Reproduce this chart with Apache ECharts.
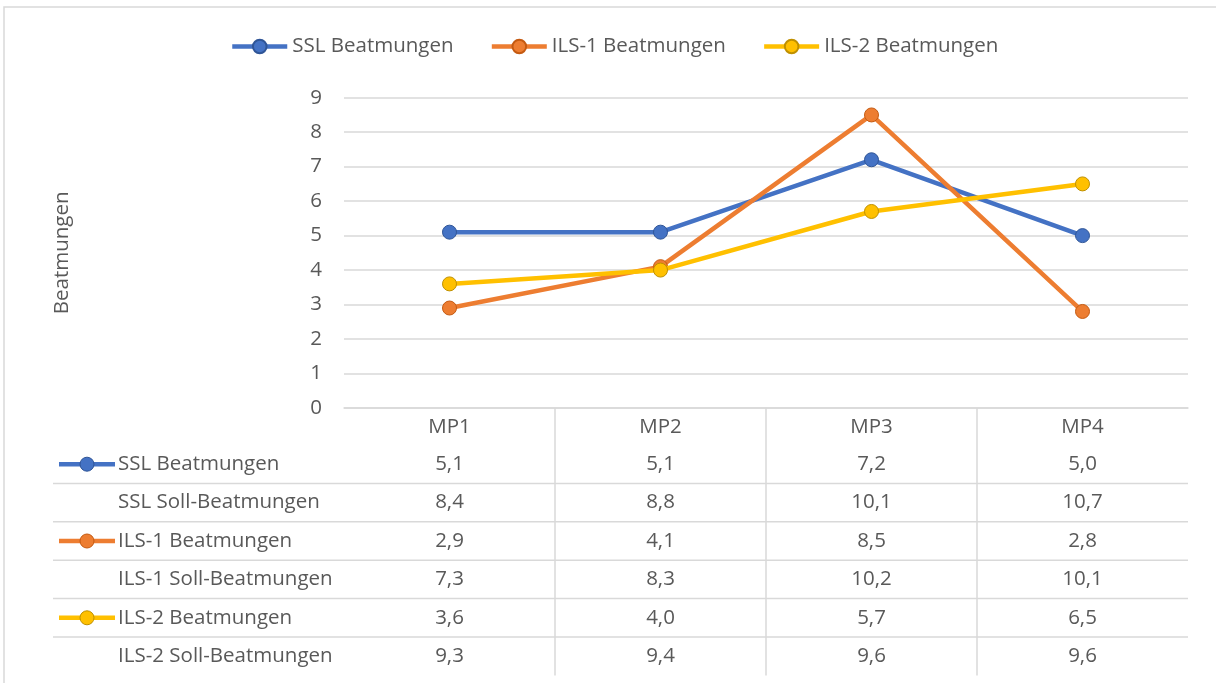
<!DOCTYPE html>
<html>
<head>
<meta charset="utf-8">
<script src="https://cdn.jsdelivr.net/npm/echarts@6/dist/echarts.min.js"></script>
<style>html,body{margin:0;padding:0;background:#fff;}#c{width:1216px;height:683px;}</style>
</head>
<body>
<div id="c"></div>
<script>
const categories = ['MP1', 'MP2', 'MP3', 'MP4'];
const sslBeatmungen = [5.1, 5.1, 7.2, 5.0];
const sslSoll = [8.4, 8.8, 10.1, 10.7];
const ils1Beatmungen = [2.9, 4.1, 8.5, 2.8];
const ils1Soll = [7.3, 8.3, 10.2, 10.1];
const ils2Beatmungen = [3.6, 4.0, 5.7, 6.5];
const ils2Soll = [9.3, 9.4, 9.6, 9.6];
const seriesNames = ['SSL Beatmungen', 'ILS-1 Beatmungen', 'ILS-2 Beatmungen'];
const tableRows = [
  { label: 'SSL Beatmungen', values: sslBeatmungen, key: 0 },
  { label: 'SSL Soll-Beatmungen', values: sslSoll, key: -1 },
  { label: 'ILS-1 Beatmungen', values: ils1Beatmungen, key: 1 },
  { label: 'ILS-1 Soll-Beatmungen', values: ils1Soll, key: -1 },
  { label: 'ILS-2 Beatmungen', values: ils2Beatmungen, key: 2 },
  { label: 'ILS-2 Soll-Beatmungen', values: ils2Soll, key: -1 }
];
const colors = ['#4472C4', '#ED7D31', '#FFC000'];
const borders = ['#2F5597', '#C55A11', '#BF9000'];

const FONT = '"Open Sans", sans-serif';
const FS = 20.5;
const TXT = '#595959';
const GRID = '#D9D9D9';

const chart = echarts.init(document.getElementById('c'), null, { renderer: 'canvas' });

function fmt(v) { return v.toFixed(1).replace('.', ','); }

const seriesData = [sslBeatmungen, ils1Beatmungen, ils2Beatmungen];

chart.setOption({
  backgroundColor: '#fff',
  animation: false,
  textStyle: { fontFamily: FONT },
  legend: {
    left: 225, top: 31,
    itemWidth: 55, itemHeight: 17, itemGap: 36,
    lineStyle: { width: 4.5 },
    textStyle: { fontFamily: FONT, fontSize: FS, color: TXT },
    data: seriesNames
  },
  grid: { left: 344, right: 28, top: 97.7, bottom: 275, containLabel: false },
  xAxis: {
    type: 'category', data: categories, boundaryGap: true,
    axisLine: { show: true, lineStyle: { color: GRID, width: 1.5 } },
    axisTick: { show: false },
    axisLabel: { margin: 9, fontFamily: FONT, fontSize: FS, color: TXT }
  },
  yAxis: {
    type: 'value', min: 0, max: 9, interval: 1,
    name: 'Beatmungen', nameLocation: 'middle', nameRotate: 90, nameGap: 271,
    nameTextStyle: { fontFamily: FONT, fontSize: FS, color: TXT },
    axisLine: { show: false }, axisTick: { show: false },
    axisLabel: { margin: 22, fontFamily: FONT, fontSize: FS, color: TXT },
    splitLine: { lineStyle: { color: GRID, width: 1.5 } }
  },
  series: seriesNames.map((n, i) => ({
    name: n, type: 'line', data: seriesData[i],
    symbol: 'circle', symbolSize: 14,
    lineStyle: { color: colors[i], width: 4.5 },
    itemStyle: { color: colors[i], borderColor: borders[i], borderWidth: 1 },
    z: 3 + i
  }))
});

function buildTable() {
  const centers = categories.map((c, i) => chart.convertToPixel({ xAxisIndex: 0 }, i));
  const step = centers.length > 1 ? centers[1] - centers[0] : 200;
  const left = centers[0] - step / 2;
  const right = centers[centers.length - 1] + step / 2;
  const axisY = chart.convertToPixel({ yAxisIndex: 0 }, 0);
  const headerH = 37;
  const rowH = 38.4;
  const tableTop = axisY + headerH;
  const tableBottom = tableTop + rowH * tableRows.length;
  const els = [];
  els.push({ type: 'rect', shape: { x: 4, y: 7, width: 1400, height: 900 }, style: { fill: 'none', stroke: GRID, lineWidth: 1.5 }, silent: true, z: -10 });
  for (let i = 1; i < categories.length; i++) {
    const x = left + step * i;
    els.push({ type: 'line', shape: { x1: x, y1: axisY, x2: x, y2: tableBottom }, style: { stroke: GRID, lineWidth: 1.5 }, silent: true });
  }
  for (let r = 1; r < tableRows.length; r++) {
    const y = tableTop + rowH * r;
    els.push({ type: 'line', shape: { x1: 53, y1: y, x2: right, y2: y }, style: { stroke: GRID, lineWidth: 1.5 }, silent: true });
  }
  tableRows.forEach((row, r) => {
    const cy = tableTop + rowH * r + rowH / 2;
    if (row.key >= 0) {
      els.push({ type: 'line', shape: { x1: 59, y1: cy, x2: 115, y2: cy }, style: { stroke: colors[row.key], lineWidth: 4.5 }, silent: true });
      els.push({ type: 'circle', shape: { cx: 87, cy: cy, r: 7 }, style: { fill: colors[row.key], stroke: borders[row.key], lineWidth: 1 }, silent: true });
    }
    els.push({ type: 'text', x: 118, y: cy, style: { text: row.label, font: FS + 'px ' + FONT, fill: TXT, textAlign: 'left', textVerticalAlign: 'middle' }, silent: true });
    row.values.forEach((v, i) => {
      els.push({ type: 'text', x: centers[i], y: cy, style: { text: fmt(v), font: FS + 'px ' + FONT, fill: TXT, textAlign: 'center', textVerticalAlign: 'middle' }, silent: true });
    });
  });
  chart.setOption({ graphic: els });
}
buildTable();
</script>
</body>
</html>
